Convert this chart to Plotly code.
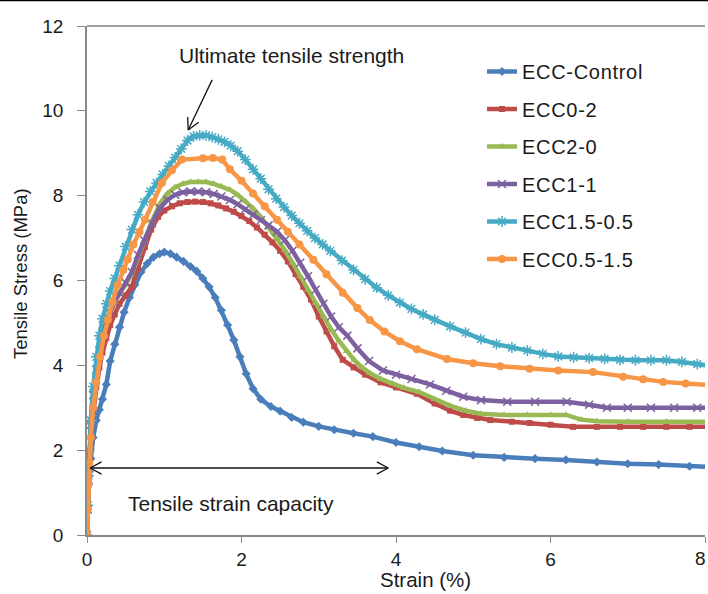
import math
import plotly.graph_objects as go

# ---------------- data ----------------
ctrl_x = [0, 0.01, 0.02, 0.03, 0.05, 0.08, 0.12, 0.16, 0.2, 0.25, 0.3, 0.36, 0.42, 0.48, 0.55, 0.62, 0.7, 0.78, 0.86, 0.94, 1.0,
          1.08, 1.16, 1.25, 1.34, 1.42, 1.5, 1.58, 1.66, 1.74, 1.82, 1.9, 1.98, 2.06, 2.15, 2.25, 2.38, 2.5, 2.65, 2.8, 3.0,
          3.2, 3.45, 3.7, 4.0, 4.3, 4.6, 5.0, 5.4, 5.8, 6.2, 6.6, 7.0, 7.4, 7.8, 8.1]
ctrl_y = [0, 0.6, 1.2, 1.5, 1.8, 2.3, 2.7, 2.95, 3.2, 3.55, 4.1, 4.5, 4.9, 5.25, 5.6, 5.9, 6.2, 6.4, 6.55, 6.63, 6.67,
          6.63, 6.55, 6.45, 6.33, 6.22, 6.05, 5.85, 5.6, 5.3, 4.95, 4.6, 4.2, 3.8, 3.45, 3.2, 3.03, 2.92, 2.77, 2.66, 2.56,
          2.48, 2.4, 2.32, 2.18, 2.08, 1.98, 1.88, 1.83, 1.8, 1.77, 1.72, 1.68, 1.66, 1.62, 1.6]

e02_x = [0, 0.01, 0.02, 0.03, 0.05, 0.08, 0.12, 0.16, 0.2, 0.25, 0.3, 0.36, 0.42, 0.5, 0.58, 0.66, 0.75, 0.83, 0.92, 1.0,
         1.1, 1.2, 1.3, 1.4, 1.5, 1.6, 1.7, 1.8, 1.9, 2.0, 2.1, 2.2, 2.3, 2.4, 2.5, 2.6, 2.7, 2.8, 2.9, 3.0, 3.1, 3.2,
         3.31, 3.45, 3.6, 3.8, 4.0, 4.27, 4.5, 4.7, 4.87, 5.05, 5.22, 5.5, 5.73, 6.0, 6.29, 6.6, 6.9, 7.2, 7.5, 7.8, 8.1]
e02_y = [0, 0.6, 1.2, 1.7, 2.3, 2.9, 3.5, 3.95, 4.3, 4.65, 4.95, 5.2, 5.45, 5.65, 5.85, 6.3, 6.79, 7.2, 7.5, 7.65,
         7.75, 7.82, 7.85, 7.86, 7.85, 7.82, 7.77, 7.7, 7.62, 7.52, 7.4, 7.25, 7.08, 6.9, 6.7, 6.45, 6.15, 5.85, 5.55, 5.15, 4.8, 4.45,
         4.13, 3.95, 3.78, 3.6, 3.48, 3.33, 3.1, 2.93, 2.83, 2.76, 2.71, 2.67, 2.64, 2.6, 2.55, 2.55, 2.55, 2.55, 2.55, 2.55, 2.55]

e20_x = [0, 0.01, 0.02, 0.03, 0.05, 0.08, 0.12, 0.16, 0.2, 0.25, 0.3, 0.36, 0.42, 0.5, 0.58, 0.66, 0.74, 0.84, 0.94, 1.04,
         1.14, 1.24, 1.34, 1.44, 1.54, 1.64, 1.74, 1.85, 1.95, 2.05, 2.15, 2.25, 2.35, 2.46, 2.56, 2.66, 2.76, 2.86, 2.96, 3.06,
         3.16, 3.26, 3.36, 3.46, 3.56, 3.66, 3.8, 3.95, 4.1, 4.3, 4.5, 4.7, 4.9, 5.1, 5.4, 5.7, 6.0, 6.2, 6.4, 6.6, 7.0, 7.5, 8.1]
e20_y = [0, 0.7, 1.4, 2.0, 2.7, 3.4, 4.0, 4.5, 4.9, 5.1, 5.3, 5.5, 5.7, 5.9, 6.15, 6.55, 6.95, 7.4, 7.8, 8.05,
         8.2, 8.28, 8.32, 8.33, 8.32, 8.28, 8.22, 8.14, 8.02, 7.87, 7.7, 7.5, 7.25, 7.0, 6.72, 6.42, 6.1, 5.78, 5.47, 5.15,
         4.85, 4.58, 4.33, 4.12, 3.95, 3.82, 3.68, 3.57, 3.47, 3.37, 3.2, 3.05, 2.93, 2.86, 2.83, 2.83, 2.83, 2.83, 2.72, 2.68, 2.67, 2.67, 2.67]

e11_x = [0, 0.01, 0.02, 0.03, 0.05, 0.08, 0.12, 0.16, 0.2, 0.25, 0.3, 0.36, 0.42, 0.5, 0.58, 0.66, 0.74, 0.84, 0.94, 1.04,
         1.14, 1.24, 1.34, 1.44, 1.54, 1.64, 1.74, 1.85, 1.95, 2.05, 2.15, 2.25, 2.35, 2.46, 2.56, 2.66, 2.76, 2.86, 2.96, 3.06,
         3.16, 3.26, 3.37, 3.5, 3.65, 3.83, 4.0, 4.2, 4.44, 4.65, 4.87, 5.1, 5.44, 5.8, 6.21, 6.5, 6.73, 7.0, 7.3, 7.6, 7.9, 8.1]
e11_y = [0, 0.6, 1.3, 1.9, 2.6, 3.3, 3.9, 4.35, 4.7, 5.0, 5.25, 5.5, 5.7, 5.95, 6.2, 6.6, 6.95, 7.35, 7.7, 7.9,
         8.02, 8.08, 8.1, 8.1, 8.08, 8.04, 7.98, 7.9, 7.8, 7.68, 7.55, 7.42, 7.3, 7.15, 6.95, 6.7, 6.42, 6.1, 5.78, 5.45,
         5.15, 4.9, 4.7, 4.4, 4.1, 3.88, 3.78, 3.68, 3.55, 3.4, 3.26, 3.18, 3.14, 3.14, 3.14, 3.07, 3.0, 3.0, 3.0, 3.0, 3.0, 3.0]

e1505_x = [0, 0.01, 0.02, 0.03, 0.05, 0.08, 0.12, 0.16, 0.2, 0.25, 0.3, 0.36, 0.42, 0.5, 0.58, 0.66, 0.74, 0.82, 0.9, 0.98,
           1.06, 1.14, 1.22, 1.3, 1.38, 1.46, 1.54, 1.62, 1.7, 1.78, 1.86, 1.95, 2.05, 2.15, 2.25, 2.35, 2.45, 2.55, 2.65, 2.75,
           2.85, 2.95, 3.05, 3.15, 3.3, 3.45, 3.6, 3.75, 3.9, 4.05, 4.2, 4.35, 4.5, 4.7, 4.9, 5.1, 5.3, 5.5, 5.7, 5.9,
           6.1, 6.3, 6.5, 6.7, 6.9, 7.1, 7.3, 7.5, 7.7, 7.9, 8.1]
e1505_y = [0, 0.7, 1.4, 2.0, 2.7, 3.5, 4.2, 4.7, 5.1, 5.45, 5.75, 6.05, 6.35, 6.8, 7.2, 7.55, 7.85, 8.1, 8.3, 8.5,
           8.7, 8.9, 9.1, 9.3, 9.4, 9.42, 9.42, 9.38, 9.33, 9.27, 9.18, 9.05, 8.85, 8.62, 8.4, 8.15, 7.93, 7.73, 7.53, 7.35,
           7.17, 7.0, 6.85, 6.7, 6.47, 6.25, 6.03, 5.83, 5.65, 5.48, 5.33, 5.2, 5.07, 4.92, 4.77, 4.62, 4.5, 4.42, 4.35, 4.27,
           4.21, 4.19, 4.17, 4.15, 4.13, 4.12, 4.12, 4.12, 4.08, 4.03, 3.98]

e0515_x = [0, 0.01, 0.02, 0.03, 0.05, 0.08, 0.12, 0.17, 0.22, 0.27, 0.33, 0.4, 0.47, 0.53, 0.6, 0.68, 0.75, 0.85, 0.97, 1.1,
           1.23, 1.5, 1.63, 1.75, 1.85, 2.0, 2.15, 2.3, 2.46, 2.6, 2.75, 2.93, 3.1, 3.31, 3.5, 3.66, 3.85, 4.05, 4.27, 4.66,
           5.0, 5.35, 5.73, 6.1, 6.55, 6.94, 7.2, 7.46, 7.75, 8.04]
e0515_y = [0, 0.6, 1.2, 1.7, 2.3, 3.0, 3.6, 4.2, 4.7, 5.07, 5.5, 5.9, 6.25, 6.5, 6.85, 7.15, 7.43, 7.85, 8.3, 8.6,
           8.85, 8.88, 8.89, 8.85, 8.62, 8.35, 8.05, 7.75, 7.43, 7.15, 6.85, 6.49, 6.15, 5.71, 5.35, 5.07, 4.8, 4.57, 4.38, 4.15,
           4.05, 3.98, 3.92, 3.88, 3.84, 3.73, 3.67, 3.61, 3.57, 3.54]

series_names = ["ECC-Control", "ECC0-2", "ECC2-0", "ECC1-1", "ECC1.5-0.5", "ECC0.5-1.5"]
series_x = [ctrl_x, e02_x, e20_x, e11_x, e1505_x, e0515_x]
series_y = [ctrl_y, e02_y, e20_y, e11_y, e1505_y, e0515_y]
colors = ["#4A7EBB", "#BE4B48", "#98B954", "#7D60A0", "#46AAC5", "#F79646"]
symbols = ["diamond", "square", "triangle-up", "x-thin-open", "asterisk-open", "circle"]
msizes = [7, 6, 7, 8, 9, 8]

x_ticks = [0, 2, 4, 6, 8]
x_ticktext = ["0", "2", "4", "6", "8"]
y_ticks = [0, 2, 4, 6, 8, 10, 12]

x_title = "Strain (%)"
y_title = "Tensile Stress (MPa)"
uts_label = "Ultimate tensile strength"
tsc_label = "Tensile strain capacity"

# ---------------- layout constants ----------------
W, H = 708, 594
ML, MR, MT, MB = 87, 3, 26, 59
XR = (0, 8)
YR = (0, 12)
PW = W - ML - MR
PH = H - MT - MB
SX = PW / (XR[1] - XR[0])
SY = PH / (YR[1] - YR[0])

FONT = "Liberation Sans, Arial, sans-serif"
TXT = "#1a1a1a"


def spaced(s, sp):
    return '<span style="letter-spacing:%spx">%s</span>' % (sp, s)


def paper_x(px):
    return (px - ML) / PW


def paper_y(py):
    return (H - MB - py) / PH


fig = go.Figure()
for name, xs, ys, c, sym, ms in zip(series_names, series_x, series_y, colors, symbols, msizes):
    open_sym = sym.endswith("open")
    fig.add_trace(go.Scatter(
        x=xs, y=ys, mode="lines+markers", name=spaced(name, 0.7),
        legendgroup=name,
        line=dict(color=c, width=4.5),
        marker=dict(symbol=sym, size=ms, color=c,
                    line=dict(color=c, width=1.5 if open_sym else 0)),
    ))


# open "V" arrow heads drawn as shapes, computed in pixel space
def head(tip, tail, length=13, ang=28):
    tx, ty = tip
    bx, by = tail
    ptx, pty = tx * SX, -ty * SY
    pbx, pby = bx * SX, -by * SY
    d = math.atan2(pby - pty, pbx - ptx)
    out = []
    for s in (-1, 1):
        a = d + s * math.radians(ang)
        ex = ptx + length * math.cos(a)
        ey = pty + length * math.sin(a)
        out.append(dict(type="line", xref="x", yref="y", x0=tx, y0=ty, x1=ex / SX, y1=-ey / SY,
                        line=dict(color="#111", width=1.3)))
    return out


shapes = []
# top border of plot
shapes.append(dict(type="line", xref="paper", yref="paper", x0=0, x1=1, y0=1, y1=1,
                   line=dict(color="#7f7f7f", width=1.5)))
# black line at very top of image
shapes.append(dict(type="line", xref="paper", yref="paper", x0=paper_x(0), x1=paper_x(W),
                   y0=paper_y(0.5), y1=paper_y(0.5), line=dict(color="#000", width=1.5)))

# UTS arrow
uts_tail = (1.62, 10.73)
uts_tip = (1.31, 9.55)
shapes.append(dict(type="line", xref="x", yref="y", x0=uts_tail[0], y0=uts_tail[1], x1=uts_tip[0], y1=uts_tip[1],
                   line=dict(color="#111", width=1.3)))
shapes += head(uts_tip, uts_tail)

# strain capacity double arrow
sc_a = (0.04, 1.58)
sc_b = (3.9, 1.58)
shapes.append(dict(type="line", xref="x", yref="y", x0=sc_a[0], y0=sc_a[1], x1=sc_b[0], y1=sc_b[1],
                   line=dict(color="#111", width=1.3)))
shapes += head(sc_a, sc_b)
shapes += head(sc_b, sc_a)

annotations = [
    dict(x=2.65, y=11.3, xref="x", yref="y", text=uts_label, showarrow=False,
         font=dict(family=FONT, size=21, color=TXT)),
    dict(x=1.87, y=0.75, xref="x", yref="y", text=tsc_label, showarrow=False,
         font=dict(family=FONT, size=21, color=TXT)),
    dict(x=paper_x(425), y=paper_y(579), xref="paper", yref="paper", text=x_title, showarrow=False,
         xanchor="center", yanchor="middle", font=dict(family=FONT, size=20.5, color=TXT)),
    dict(x=paper_x(20), y=paper_y(274), xref="paper", yref="paper", text=y_title, showarrow=False,
         textangle=-90, xanchor="center", yanchor="middle", font=dict(family=FONT, size=18.5, color=TXT)),
    # last x tick label, kept inside the picture's right edge
    dict(x=paper_x(W - 1), y=paper_y(558), xref="paper", yref="paper", text=x_ticktext[-1], showarrow=False,
         xanchor="right", yanchor="middle", xshift=0, borderpad=0,
         font=dict(family=FONT, size=19, color=TXT)),
]

fig.update_layout(
    width=W, height=H,
    margin=dict(l=ML, r=MR, t=MT, b=MB, pad=0, autoexpand=False),
    paper_bgcolor="white", plot_bgcolor="white",
    font=dict(family=FONT, color=TXT),
    showlegend=True,
    legend=dict(x=paper_x(482), y=paper_y(52), xanchor="left", yanchor="top",
                font=dict(family=FONT, size=20, color=TXT), bgcolor="rgba(0,0,0,0)",
                tracegroupgap=8.5, itemclick=False),
    shapes=shapes,
    annotations=annotations,
    xaxis=dict(range=list(XR), tickvals=x_ticks, ticktext=x_ticktext[:-1] + [""],
               showgrid=False, zeroline=False, automargin=False,
               showline=True, linecolor="#8a8a8a", linewidth=1.5,
               ticks="outside", ticklen=6, tickcolor="#8a8a8a", ticklabeloverflow="allow",
               tickfont=dict(family=FONT, size=19, color=TXT)),
    yaxis=dict(range=list(YR), tickvals=y_ticks, showgrid=False, zeroline=False, automargin=False,
               showline=True, linecolor="#8a8a8a", linewidth=1.5,
               ticks="outside", ticklen=8, tickcolor="#8a8a8a", ticklabelstandoff=10,
               tickfont=dict(family=FONT, size=19, color=TXT)),
)

fig.write_html("out.html")
